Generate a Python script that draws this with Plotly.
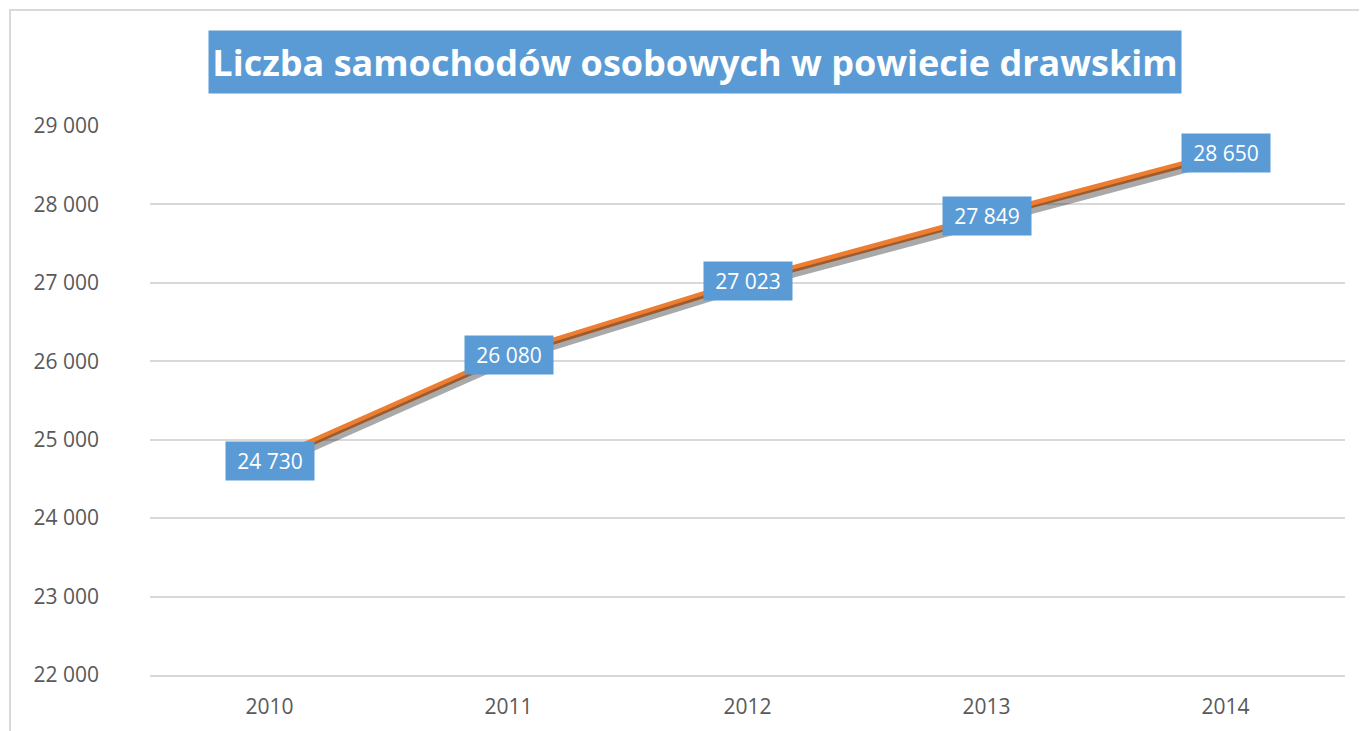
import plotly.graph_objects as go

years = ["2010", "2011", "2012", "2013", "2014"]
cars = [24730, 26080, 27023, 27849, 28650]
title_text = "Liczba samochodów osobowych w powiecie drawskim"
y_ticks = [22000, 23000, 24000, 25000, 26000, 27000, 28000, 29000]

# page body has an 8px margin; figure origin is at screen (8, 8)
OFF = 8
W, H = 1367 - OFF, 731 - OFF
L, R, T, B = 150 - OFF, 22, 126 - OFF, 56
pw, ph = W - L - R, H - T - B

BLUE = "#5B9BD5"
ORANGE = "#ED7D31"
GRID = "#D9D9D9"
TXT = "#595959"

yr = [22000, 29000]
xr = [-0.5, len(years) - 0.5]
sdx, sdy = 3, 4
dx = sdx * (xr[1] - xr[0]) / pw
dy = sdy * (yr[1] - yr[0]) / ph


def px_to_paper_x(sx):
    return (sx - OFF - L) / pw


def px_to_paper_y(sy):
    return (H - B - (sy - OFF)) / ph


fig = go.Figure()
fig.add_trace(go.Scatter(
    x=years, y=cars, mode="lines", xaxis="x", yaxis="y",
    line=dict(color="rgba(0,0,0,0)", width=0), hoverinfo="skip", showlegend=False))
# shadow
fig.add_trace(go.Scatter(
    x=years, y=cars, mode="lines", xaxis="x3", yaxis="y3",
    line=dict(color="rgba(40,40,40,0.4)", width=8), hoverinfo="skip", showlegend=False))
# main line
fig.add_trace(go.Scatter(
    x=years, y=cars, mode="lines", xaxis="x2", yaxis="y2",
    line=dict(color=ORANGE, width=7), showlegend=False))

for i, yv in enumerate(cars):
    fig.add_annotation(
        x=i, y=yv, xref="x", yref="y", showarrow=False,
        text=f"{yv:,}".replace(",", " "),
        font=dict(family="Open Sans", size=21, color="white"),
        bgcolor=BLUE, width=88, height=38, borderpad=0,
        xanchor="center", yanchor="middle")

fig.add_annotation(
    x=px_to_paper_x((209 + 1181) / 2), y=px_to_paper_y(62), xref="paper", yref="paper",
    showarrow=False, text=f"<b>{title_text}</b>",
    font=dict(family="Open Sans", size=36, color="white"),
    bgcolor=BLUE, width=972, height=62, borderpad=0,
    xanchor="center", yanchor="middle")

# outer chart border
fig.add_shape(type="rect", xref="paper", yref="paper",
              x0=px_to_paper_x(10), x1=px_to_paper_x(1400),
              y0=px_to_paper_y(760), y1=px_to_paper_y(10),
              line=dict(color=GRID, width=2), fillcolor="rgba(0,0,0,0)", layer="below")

axis_common = dict(type="category", categoryorder="array", categoryarray=years)
fig.update_layout(
    width=W, height=H,
    margin=dict(l=L, r=R, t=T, b=B),
    paper_bgcolor="white", plot_bgcolor="white",
    separators=", ",
    showlegend=False,
    xaxis=dict(**axis_common, range=xr, showgrid=False, zeroline=False,
               showline=True, linecolor=GRID, linewidth=2,
               ticks="outside", ticklen=12, tickcolor="rgba(0,0,0,0)",
               tickfont=dict(family="Open Sans", size=21, color=TXT)),
    yaxis=dict(range=yr, tickvals=y_ticks, tickformat=",d",
               showgrid=True, gridcolor=GRID, gridwidth=2, zeroline=False,
               showline=False, ticklabelstandoff=50,
               tickfont=dict(family="Open Sans", size=21, color=TXT)),
    xaxis2=dict(**axis_common, range=xr, overlaying="x", visible=False),
    yaxis2=dict(range=yr, overlaying="y", visible=False),
    xaxis3=dict(**axis_common, range=[xr[0] - dx, xr[1] - dx], overlaying="x", visible=False),
    yaxis3=dict(range=[yr[0] + dy, yr[1] + dy], overlaying="y", visible=False),
)

fig.write_html("out.html")
